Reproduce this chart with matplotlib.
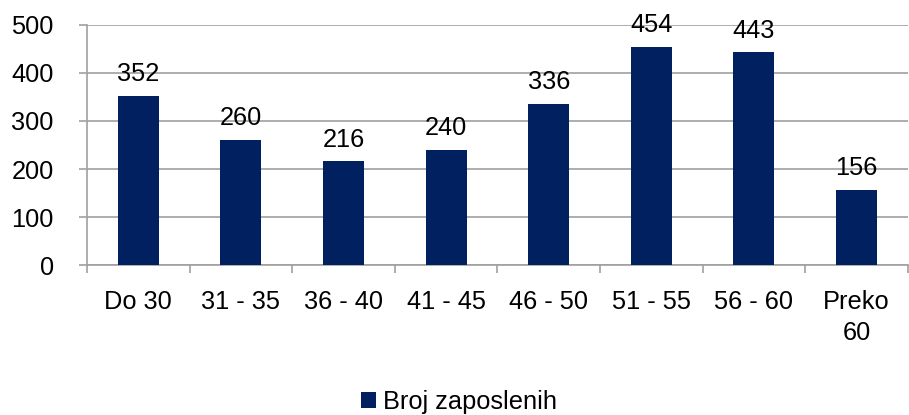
import numpy as np
import matplotlib.pyplot as plt

# Podaci
kategorije = ['Do 30', '31 - 35', '36 - 40', '41 - 45', '46 - 50', '51 - 55', '56 - 60', 'Preko\n60']
zaposleni = [352, 260, 216, 240, 336, 454, 443, 156]
y_ticks = [0, 100, 200, 300, 400, 500]

fs = 18.3
plt.rcParams['font.family'] = ['Liberation Sans', 'DejaVu Sans']
plt.rcParams['font.size'] = fs

fig = plt.figure(figsize=(9.09, 4.15), dpi=100)
ax = fig.add_axes([0.0957, 0.3614, 0.903, 0.5784])

x = np.arange(len(kategorije))
bars = ax.bar(x, zaposleni, width=0.4, color='#002060', zorder=3, label='Broj zaposlenih')

for xi, v in zip(x, zaposleni):
    ax.annotate(str(v), (xi, v), xytext=(0, 7), textcoords='offset points',
                ha='center', va='bottom', fontsize=fs, color='black', zorder=4)

ax.set_xlim(-0.5, len(kategorije) - 0.5)
ax.set_ylim(0, 500)
ax.set_yticks(y_ticks)
ax.yaxis.grid(True, color='#a0a0a0', linewidth=1.2, zorder=0)

# oznake kategorija centrirane, crtice na granicama
ax.set_xticks(x)
ax.set_xticklabels(kategorije, linespacing=1.35)
ax.tick_params(axis='x', length=0, pad=18)
ax.set_xticks(np.arange(len(kategorije) + 1) - 0.5, minor=True)
ax.tick_params(axis='x', which='minor', length=6, color='#a0a0a0', width=1.2)
ax.tick_params(axis='y', length=6, color='#a0a0a0', width=1.2, pad=18)

for s in ['top', 'right']:
    ax.spines[s].set_visible(False)
for s in ['left', 'bottom']:
    ax.spines[s].set_color('#a0a0a0')
    ax.spines[s].set_linewidth(1.2)

fig.legend(handles=[bars], loc='center', bbox_to_anchor=(0.505, 0.032), frameon=False,
           handlelength=0.6, handleheight=0.6, handletextpad=0.25, fontsize=fs)

fig.savefig('out.png', dpi=100)
